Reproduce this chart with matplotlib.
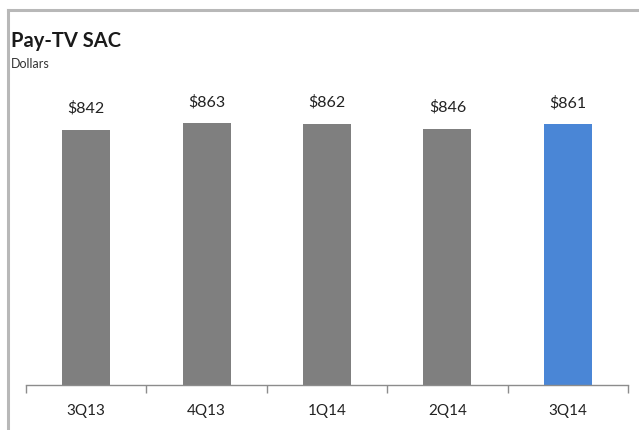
import matplotlib
matplotlib.use("Agg")
import matplotlib.pyplot as plt
from matplotlib.lines import Line2D

# Chart data
quarters = ["3Q13", "4Q13", "1Q14", "2Q14", "3Q14"]
sac_values = [842, 863, 862, 846, 861]
bar_colors = ["#7f7f7f", "#7f7f7f", "#7f7f7f", "#7f7f7f", "#4a86d6"]

plt.rcParams['font.family'] = ['Lato', 'DejaVu Sans']

fig = plt.figure(figsize=(6.39, 4.30), dpi=100)
ax = fig.add_axes([26 / 639, 45 / 430, 602 / 639, 288 / 430])

x = list(range(len(quarters)))
ax.bar(x, sac_values, width=0.4, color=bar_colors, zorder=2)

# value labels sit just above each bar
for xi, v in zip(x, sac_values):
    ax.annotate(f"${v}", (xi, v), xytext=(0, 10), textcoords="offset points",
                ha="center", va="bottom", fontsize=11.5, color="#222222")

ax.set_xlim(-0.5, len(quarters) - 0.5)
ax.set_ylim(0, 950)

# category labels in the middle, tick marks at the boundaries
ax.set_xticks(x)
ax.set_xticklabels(quarters, fontsize=11, color="#222222")
ax.tick_params(axis="x", which="major", length=0, pad=14)
ax.set_xticks([i - 0.5 for i in range(len(quarters) + 1)], minor=True)
ax.tick_params(axis="x", which="minor", length=6, width=1, color="#8c8c8c", direction="out")
ax.set_yticks([])

for side in ["top", "right", "left"]:
    ax.spines[side].set_visible(False)
ax.spines["bottom"].set_color("#8c8c8c")
ax.spines["bottom"].set_linewidth(1)

# titles
fig.text(11 / 639, 1 - 41 / 430, "Pay-TV SAC", fontsize=14.5, fontweight="bold",
         color="#1a1a1a", va="center", ha="left")
fig.text(11 / 639, 1 - 64 / 430, "Dollars", fontsize=9, color="#333333",
         va="center", ha="left")

# outer frame (top and left edges only)
fig.add_artist(Line2D([8 / 639, 1], [1 - 9.5 / 430, 1 - 9.5 / 430],
                      transform=fig.transFigure, color="#b8b8b8", linewidth=2.2))
fig.add_artist(Line2D([8 / 639, 8 / 639], [0, 1 - 9.5 / 430],
                      transform=fig.transFigure, color="#b8b8b8", linewidth=2.2))

fig.savefig("out.png", dpi=100)
